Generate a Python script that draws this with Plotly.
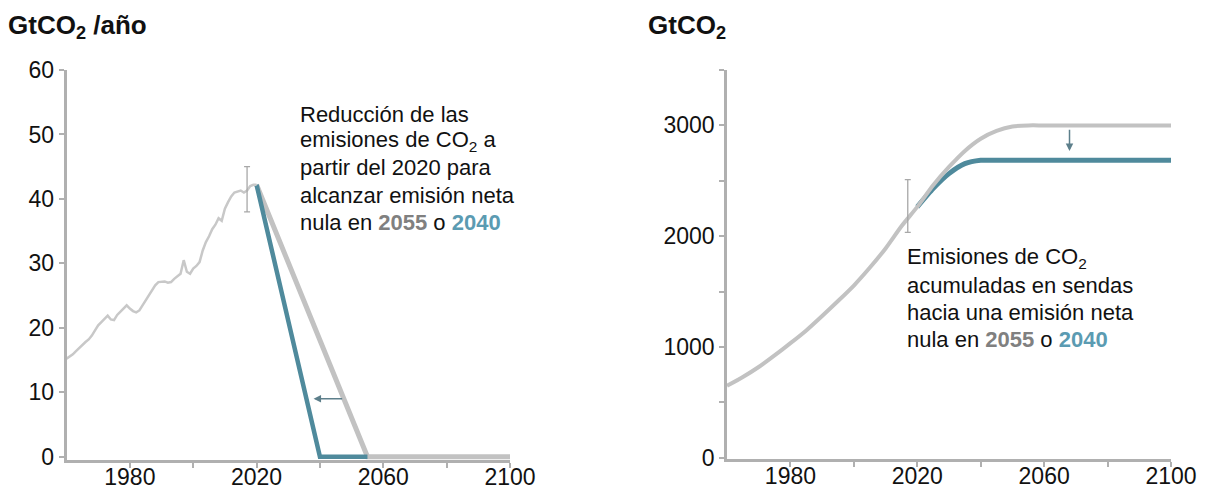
import plotly.graph_objects as go

# ---- Data -------------------------------------------------------------
hist_years = list(range(1960, 2021))
hist_emis = [15.2, 15.5, 15.9, 16.4, 16.9, 17.3, 17.8, 18.2, 18.8, 19.6,
             20.4, 20.9, 21.4, 21.9, 21.3, 21.2, 22.0, 22.5, 23.0, 23.5,
             23.0, 22.6, 22.4, 22.7, 23.5, 24.3, 25.0, 25.8, 26.6, 27.1,
             27.2, 27.2, 27.0, 27.1, 27.6, 28.0, 28.4, 30.5, 28.7, 28.4,
             29.2, 29.6, 30.2, 32.0, 33.3, 34.2, 35.3, 36.0, 37.0, 36.6,
             38.5, 39.5, 40.4, 41.0, 41.2, 41.3, 41.0, 41.3, 42.0, 42.2,
             42.2]

# Linear paths to net zero
path2055_years = [2020, 2055, 2100]
path2055_emis = [42.2, 0, 0]
path2040_years = [2020, 2040, 2055]
path2040_emis = [42.2, 0, 0]

# Uncertainty bar on current emissions
err_year = [2017]
err_mid = [41.5]
err_low = [38.0]
err_high = [45.0]

# Cumulative emissions (GtCO2)
cum_years = [1960, 1965, 1970, 1975, 1980, 1985, 1990, 1995, 2000, 2005,
             2010, 2015, 2020, 2025, 2030, 2035, 2040, 2045, 2050, 2055,
             2060, 2100]
cum_2055 = [650, 730, 820, 925, 1035, 1150, 1280, 1415, 1555, 1715,
            1890, 2090, 2265, 2460, 2625, 2770, 2880, 2950, 2990, 3000,
            3000, 3000]
cum2040_years = [2020, 2025, 2030, 2035, 2040, 2045, 2100]
cum_2040 = [2265, 2430, 2565, 2655, 2685, 2685, 2685]

cum_err_year = [2017]
cum_err_mid = [2160]
cum_err_low = [2035]
cum_err_high = [2510]

left_yticks = [0, 10, 20, 30, 40, 50, 60]
right_yticks = [0, 1000, 2000, 3000]
right_yminor = [500, 1500, 2500, 3500]
xticks = [1980, 2020, 2060, 2100]
xminor = [2000, 2040, 2080]

# ---- Styling ----------------------------------------------------------
GRAY_HIST = "#c8c8c8"
GRAY_PATH = "#c2c2c2"
BLUE = "#4f8a9c"
BLUE_TXT = "#5b9bb2"
GRAY_TXT = "#808080"
AXIS = "#b0b0b0"
ARROW = "#5d7f8b"
FONT = "Liberation Sans, Arial, sans-serif"

W, H = 1211, 495

fig = go.Figure()

# Left panel: annual emissions
fig.add_trace(go.Scatter(x=path2055_years, y=path2055_emis, mode="lines",
                         line=dict(color=GRAY_PATH, width=5),
                         xaxis="x", yaxis="y", hoverinfo="skip"))
fig.add_trace(go.Scatter(x=path2040_years, y=path2040_emis, mode="lines",
                         line=dict(color=BLUE, width=4.5),
                         xaxis="x", yaxis="y", hoverinfo="skip"))
fig.add_trace(go.Scatter(x=hist_years, y=hist_emis, mode="lines",
                         line=dict(color=GRAY_HIST, width=2.5),
                         xaxis="x", yaxis="y", hoverinfo="skip"))
fig.add_trace(go.Scatter(
    x=err_year, y=err_mid, mode="markers", marker=dict(size=0.1, color="rgba(0,0,0,0)"),
    error_y=dict(type="data", symmetric=False,
                 array=[h - m for h, m in zip(err_high, err_mid)],
                 arrayminus=[m - l for m, l in zip(err_mid, err_low)],
                 color="#a8a8a8", thickness=1.3, width=3),
    xaxis="x", yaxis="y", hoverinfo="skip"))

# Right panel: cumulative emissions
fig.add_trace(go.Scatter(x=cum2040_years, y=cum_2040, mode="lines",
                         line=dict(color=BLUE, width=5, shape="spline", smoothing=0.6),
                         xaxis="x2", yaxis="y2", hoverinfo="skip"))
fig.add_trace(go.Scatter(x=cum_years, y=cum_2055, mode="lines",
                         line=dict(color=GRAY_PATH, width=4, shape="spline", smoothing=0.6),
                         xaxis="x2", yaxis="y2", hoverinfo="skip"))
fig.add_trace(go.Scatter(
    x=cum_err_year, y=cum_err_mid, mode="markers", marker=dict(size=0.1, color="rgba(0,0,0,0)"),
    error_y=dict(type="data", symmetric=False,
                 array=[h - m for h, m in zip(cum_err_high, cum_err_mid)],
                 arrayminus=[m - l for m, l in zip(cum_err_mid, cum_err_low)],
                 color="#a8a8a8", thickness=1.3, width=3),
    xaxis="x2", yaxis="y2", hoverinfo="skip"))

axis_common = dict(showgrid=False, zeroline=False, showline=True, linecolor=AXIS,
                   linewidth=2.5, ticks="outside", ticklen=5, tickcolor=AXIS,
                   tickwidth=1.5, automargin=False,
                   tickfont=dict(family=FONT, size=23, color="#111111"))


def minor_ticks(vals):
    return dict(tickmode="array", tickvals=vals, ticks="outside", ticklen=5,
                tickcolor=AXIS, tickwidth=1.5, showgrid=False)


fig.update_layout(
    width=W, height=H,
    margin=dict(l=0, r=0, t=0, b=0, pad=0, autoexpand=False),
    paper_bgcolor="white", plot_bgcolor="white",
    showlegend=False,
    font=dict(family=FONT, color="#111111"),
    xaxis=dict(domain=[66.5 / W, 510 / W], range=[1960, 2100],
               tickmode="array", tickvals=xticks, minor=minor_ticks(xminor),
               ticklabelstandoff=-10, anchor="y", **axis_common),
    yaxis=dict(domain=[1 - 460 / H, 1 - 70 / H], range=[-0.5, 60],
               tickmode="array", tickvals=left_yticks,
               anchor="x", **axis_common),
    xaxis2=dict(domain=[727 / W, 1171 / W], range=[1960, 2100],
                tickmode="array", tickvals=xticks, minor=minor_ticks(xminor),
                ticklabelstandoff=-10, anchor="y2", **axis_common),
    yaxis2=dict(domain=[1 - 459 / H, 1 - 70 / H], range=[-10, 3500],
                tickmode="array", tickvals=right_yticks, minor=minor_ticks(right_yminor),
                anchor="x2", **axis_common),
)

annotations = []

# Panel titles
annotations.append(dict(text="<b>GtCO<sub>2</sub> /año</b>", xref="paper", yref="paper",
                        x=6 / W, y=1 - 26 / H, xanchor="left", yanchor="middle",
                        showarrow=False, font=dict(family=FONT, size=26, color="#111111")))
annotations.append(dict(text="<b>GtCO<sub>2</sub></b>", xref="paper", yref="paper",
                        x=646 / W, y=1 - 26 / H, xanchor="left", yanchor="middle",
                        showarrow=False, font=dict(family=FONT, size=26, color="#111111")))

year_txt = ("nula en <b><span style='color:%s'>2055</span></b> o "
            "<b><span style='color:%s'>2040</span></b>" % (GRAY_TXT, BLUE_TXT))

left_lines = ["Reducción de las", "emisiones de CO<sub>2</sub> a",
              "partir del 2020 para", "alcanzar emisión neta", year_txt]
for i, t in enumerate(left_lines):
    annotations.append(dict(text=t, xref="paper", yref="paper",
                            x=298 / W, y=1 - (114 + 27 * i) / H,
                            xanchor="left", yanchor="middle", showarrow=False,
                            font=dict(family=FONT, size=22, color="#111111")))

right_lines = ["Emisiones de CO<sub>2</sub>", "acumuladas en sendas",
               "hacia una emisión neta", year_txt]
for i, t in enumerate(right_lines):
    annotations.append(dict(text=t, xref="paper", yref="paper",
                            x=905 / W, y=1 - (258 + 27 * i) / H,
                            xanchor="left", yanchor="middle", showarrow=False,
                            font=dict(family=FONT, size=22, color="#111111")))

# Shift arrows
annotations.append(dict(x=2038, y=9, ax=2047.5, ay=9, xref="x", yref="y",
                        axref="x", ayref="y", showarrow=True, arrowhead=2,
                        arrowsize=1, arrowwidth=1.5, arrowcolor=ARROW, text=""))
annotations.append(dict(x=2068, y=2770, ax=2068, ay=2975, xref="x2", yref="y2",
                        axref="x2", ayref="y2", showarrow=True, arrowhead=2,
                        arrowsize=1, arrowwidth=1.5, arrowcolor=ARROW, text=""))

fig.update_layout(annotations=annotations)

fig.write_html("out.html")
